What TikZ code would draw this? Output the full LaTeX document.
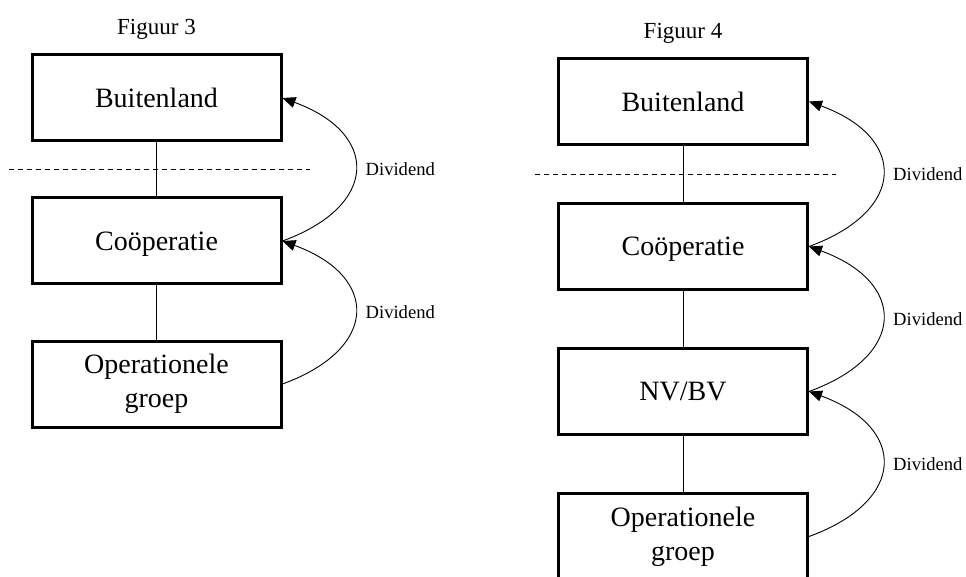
\documentclass[tikz,border=0pt]{standalone}
\usepackage{fontspec}
\setmainfont{Liberation Serif}
\usepackage{tikz}
\usetikzlibrary{calc,arrows.meta,positioning}

\begin{document}
\begin{tikzpicture}[
    orgbox/.style={draw, rectangle, line width=3pt, minimum width=249pt, minimum height=86pt, align=center, font=\fontsize{28}{34}\selectfont},
    figtitle/.style={font=\fontsize{23}{27}\selectfont},
    link/.style={line width=0.9pt},
    cutline/.style={line width=0.9pt, dash pattern=on 5pt off 4pt},
    divarc/.style={line width=0.9pt, -{Triangle[length=13pt,width=11pt]}, bend right=70, looseness=1.85},
    divlbl/.style={right, inner sep=0pt, xshift=10pt, font=\fontsize{18.6}{22}\selectfont}]
    \path[use as bounding box, fill=white] (0,0) rectangle (966pt,-577pt);

    % Figuur 3
    \node[orgbox] (b3) at (156.5pt,-98pt) {Buitenland};
    \node[orgbox, text depth=0pt, below=54pt of b3] (coop3) {Coöperatie};
    \node[orgbox, below=54pt of coop3] (op3) {Operationele\\groep};
    \node[figtitle, above=10pt of b3] (t3) {Figuur 3};
    \coordinate (cut3w) at ($(b3.south west)!0.5!(coop3.north west)+(-22pt,0)$);
    \coordinate (cut3e) at ($(b3.south east)!0.5!(coop3.north east)+(27pt,0)$);
    \draw[cutline] (cut3w) -- (cut3e);
    \draw[link] (b3) -- (coop3);
    \draw[link] (coop3) -- (op3);
    \draw[divarc] (coop3.east) to node[divlbl] {Dividend} (b3.east);
    \draw[divarc] (op3.east) to node[divlbl] {Dividend} (coop3.east);

    % Figuur 4
    \node[orgbox] (b4) at (683pt,-101.5pt) {Buitenland};
    \node[orgbox, text depth=0pt, below=56pt of b4] (coop4) {Coöperatie};
    \node[orgbox, below=56pt of coop4] (nv4) {NV/BV};
    \node[orgbox, below=56pt of nv4] (op4) {Operationele\\groep};
    \node[figtitle, above=10pt of b4] (t4) {Figuur 4};
    \coordinate (cut4w) at ($(b4.south west)!0.5!(coop4.north west)+(-22pt,0)$);
    \coordinate (cut4e) at ($(b4.south east)!0.5!(coop4.north east)+(27pt,0)$);
    \draw[cutline] (cut4w) -- (cut4e);
    \draw[link] (b4) -- (coop4);
    \draw[link] (coop4) -- (nv4);
    \draw[link] (nv4) -- (op4);
    \draw[divarc] (coop4.east) to node[divlbl] {Dividend} (b4.east);
    \draw[divarc] (nv4.east) to node[divlbl] {Dividend} (coop4.east);
    \draw[divarc] (op4.east) to node[divlbl] {Dividend} (nv4.east);
\end{tikzpicture}
\end{document}
